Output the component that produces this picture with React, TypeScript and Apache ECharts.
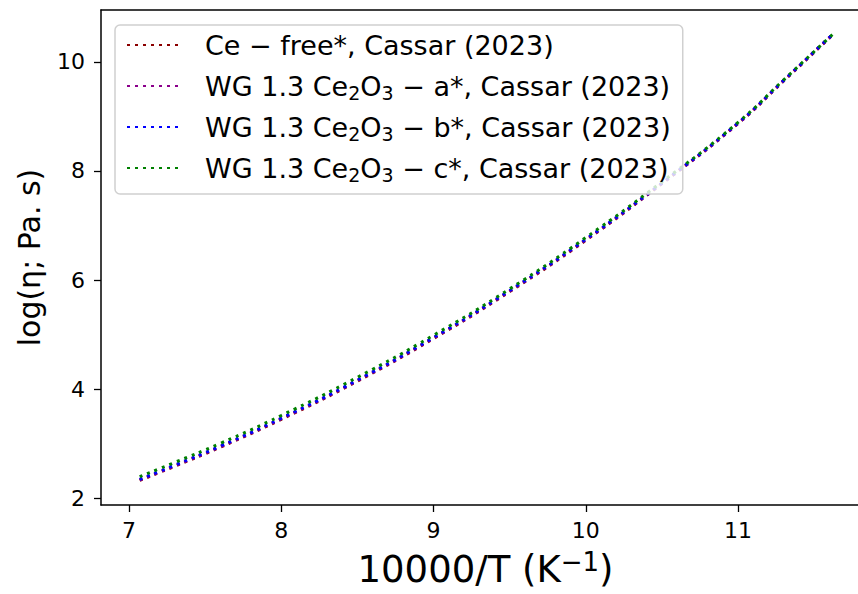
import React, { useEffect, useRef } from "react";
import * as echarts from "echarts";

// x = 10000/T (K^-1)
const xValues = [7.07, 7.3, 7.6, 8.0, 8.5, 9.0, 9.5, 10.0, 10.5, 11.0, 11.3, 11.62];
// log(eta; Pa.s)
const ceFree = [2.33, 2.59, 2.94, 3.45, 4.15, 4.93, 5.79, 6.73, 7.77, 8.87, 9.65, 10.49];
const wgA = [2.34, 2.6, 2.95, 3.46, 4.16, 4.94, 5.8, 6.74, 7.77, 8.87, 9.66, 10.5];
const wgB = [2.35, 2.61, 2.96, 3.47, 4.17, 4.95, 5.81, 6.75, 7.78, 8.88, 9.66, 10.5];
const wgC = [2.4, 2.66, 3.01, 3.52, 4.22, 4.99, 5.84, 6.78, 7.8, 8.89, 9.67, 10.5];

const seriesNames = [
  "Ce − free*, Cassar (2023)",
  "WG 1.3 Ce2O3 − a*, Cassar (2023)",
  "WG 1.3 Ce2O3 − b*, Cassar (2023)",
  "WG 1.3 Ce2O3 − c*, Cassar (2023)",
];
const seriesLabels = [
  "Ce − free*, Cassar (2023)",
  "WG 1.3 Ce{sub|2}O{sub|3} − a*, Cassar (2023)",
  "WG 1.3 Ce{sub|2}O{sub|3} − b*, Cassar (2023)",
  "WG 1.3 Ce{sub|2}O{sub|3} − c*, Cassar (2023)",
];
const seriesColors = ["#8b0000", "#8b008b", "#0000ff", "#008000"];
const seriesData = [ceFree, wgA, wgB, wgC];

const xTicks = [7, 8, 9, 10, 11];
const yTicks = [2, 4, 6, 8, 10];

const FONT = "DejaVu Sans";

export default function App() {
  const ref = useRef<HTMLDivElement>(null);
  useEffect(() => {
    if (!ref.current) return;
    const chart = echarts.init(ref.current, null, { renderer: "svg" });
    const labelMap: Record<string, string> = {};
    seriesNames.forEach((n, i) => (labelMap[n] = seriesLabels[i]));
    chart.setOption({
      animation: false,
      backgroundColor: "#ffffff",
      textStyle: { fontFamily: FONT },
      grid: { left: 101, top: 10, right: 0, bottom: 85, containLabel: false },
      legend: {
        orient: "vertical",
        left: 115,
        top: 25,
        data: seriesNames,
        itemWidth: 56,
        itemHeight: 14,
        itemGap: 9,
        padding: [4, 12, 10, 11],
        borderColor: "#d0d0d0",
        borderWidth: 1.5,
        borderRadius: 5,
        backgroundColor: "rgba(255,255,255,0.8)",
        itemStyle: { opacity: 0 },
        formatter: (name: string) => labelMap[name] || name,
        textStyle: {
          fontFamily: FONT,
          fontSize: 27,
          color: "#000",
          lineHeight: 32,
          padding: [0, 0, 0, 17],
          rich: {
            sub: { fontFamily: FONT, fontSize: 19, lineHeight: 19, verticalAlign: "bottom", color: "#000" },
          },
        },
      },
      xAxis: [
        {
          type: "value",
          min: 6.816,
          max: 11.788,
          name: "10000/T (K{sup|−1})",
          nameLocation: "middle",
          nameGap: 44,
          nameTextStyle: {
            fontFamily: FONT,
            fontSize: 37,
            color: "#000",
            lineHeight: 40,
            padding: [0, 0, 0, 12],
            rich: {
              sup: { fontFamily: FONT, fontSize: 26, lineHeight: 26, verticalAlign: "top", color: "#000" },
            },
          },
          axisLine: { show: true, onZero: false, lineStyle: { color: "#000", width: 1.5 } },
          axisTick: { show: true, length: 7, lineStyle: { color: "#000", width: 1.3 }, customValues: xTicks },
          axisLabel: { fontFamily: FONT, fontSize: 22, color: "#000", margin: 14, customValues: xTicks },
          splitLine: { show: false },
        },
        {
          type: "value",
          position: "top",
          min: 6.816,
          max: 11.788,
          axisLine: { show: true, onZero: false, lineStyle: { color: "#000", width: 1.5 } },
          axisTick: { show: false },
          axisLabel: { show: false },
          splitLine: { show: false },
        },
      ],
      yAxis: {
        type: "value",
        min: 1.88,
        max: 10.95,
        name: "log(η; Pa. s)",
        nameLocation: "middle",
        nameGap: 57,
        nameTextStyle: { fontFamily: FONT, fontSize: 30, color: "#000" },
        axisLine: { show: true, onZero: false, lineStyle: { color: "#000", width: 1.5 } },
        axisTick: { show: true, length: 7, lineStyle: { color: "#000", width: 1.3 }, customValues: yTicks },
        axisLabel: { fontFamily: FONT, fontSize: 22, color: "#000", margin: 16, customValues: yTicks },
        splitLine: { show: false },
      },
      series: seriesNames.map((name, i) => ({
        name,
        type: "line",
        xAxisIndex: 0,
        smooth: true,
        symbol: "none",
        showSymbol: false,
        color: seriesColors[i],
        lineStyle: { color: seriesColors[i], width: 3, type: [3, 5], cap: "butt" },
        data: xValues.map((x, j) => [x, seriesData[i][j]]),
      })),
    });
    return () => chart.dispose();
  }, []);
  return (
    <div
      ref={ref}
      style={{ position: "absolute", left: 0, top: 0, width: 858, height: 594 }}
    />
  );
}
